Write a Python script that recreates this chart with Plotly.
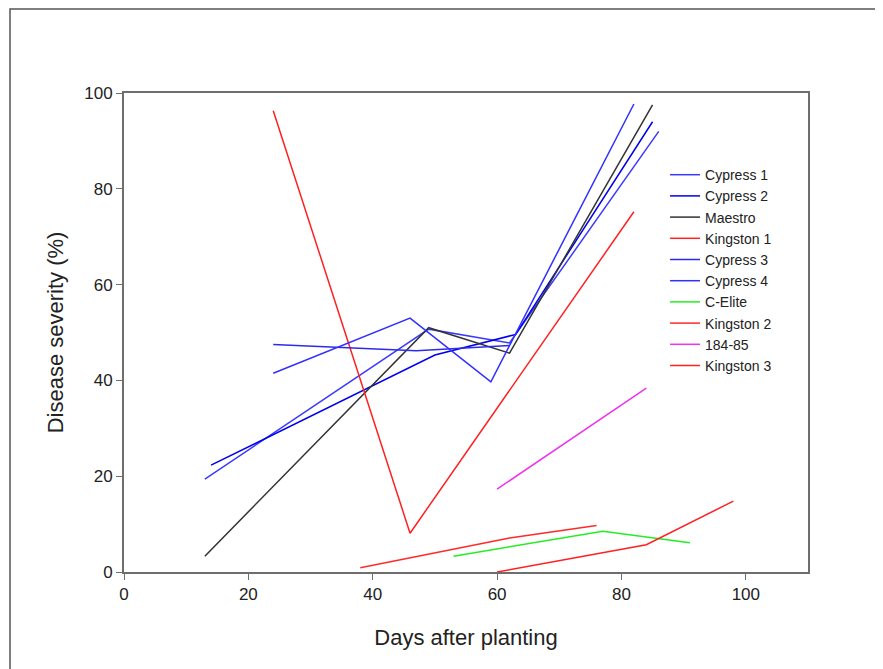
import plotly.graph_objects as go

# ---- data (days after planting, disease severity %) ----
names = ["Cypress 1", "Cypress 2", "Maestro", "Kingston 1", "Cypress 3",
         "Cypress 4", "C-Elite", "Kingston 2", "184-85", "Kingston 3"]
colors = ["#3a3aff", "#0000ee", "#333333", "#ff2020", "#2b2bf0",
          "#3030ff", "#22ee22", "#ff2a2a", "#ee33ee", "#ff2020"]

cypress1_x = [13, 49, 62, 86]
cypress1_y = [19.4, 50.7, 47.8, 92.0]
cypress2_x = [14, 50, 63, 85]
cypress2_y = [22.3, 45.3, 49.6, 94.0]
maestro_x = [13, 49, 62, 85]
maestro_y = [3.3, 51.0, 45.7, 97.5]
kingston1_x = [24, 46, 82]
kingston1_y = [96.3, 8.1, 75.2]
cypress3_x = [24, 47, 62]
cypress3_y = [47.5, 46.2, 47.3]
cypress4_x = [24, 46, 59, 82]
cypress4_y = [41.5, 53.0, 39.7, 97.7]
celite_x = [53, 77, 91]
celite_y = [3.3, 8.5, 6.1]
kingston2_x = [38, 62, 76]
kingston2_y = [0.9, 7.1, 9.7]
line18485_x = [60, 84]
line18485_y = [17.3, 38.4]
kingston3_x = [60, 84, 98]
kingston3_y = [0.0, 5.7, 14.8]

xs = [cypress1_x, cypress2_x, maestro_x, kingston1_x, cypress3_x,
      cypress4_x, celite_x, kingston2_x, line18485_x, kingston3_x]
ys = [cypress1_y, cypress2_y, maestro_y, kingston1_y, cypress3_y,
      cypress4_y, celite_y, kingston2_y, line18485_y, kingston3_y]

x_ticks = [0, 20, 40, 60, 80, 100]
y_ticks = [0, 20, 40, 60, 80, 100]

FONT = "Arial, Liberation Sans, sans-serif"

fig = go.Figure()
for n, c, x, y in zip(names, colors, xs, ys):
    fig.add_trace(go.Scatter(x=x, y=y, mode="lines", name=n,
                             line=dict(color=c, width=1.5)))

axis_common = dict(showline=True, mirror=True, linecolor="#6e6e6e", linewidth=2,
                   ticks="outside", ticklen=6, tickwidth=1.3, tickcolor="#6e6e6e",
                   showgrid=False, zeroline=False, automargin=False,
                   tickfont=dict(family=FONT, size=17, color="#222222"))

# page body adds an 8px offset, so margins are compensated
fig.update_layout(
    width=883, height=669,
    paper_bgcolor="white", plot_bgcolor="white",
    margin=dict(l=116, r=83, t=85, b=105),
    font=dict(family=FONT, color="#222222"),
    xaxis=dict(range=[0, 110], tickvals=x_ticks,
               title=dict(text="Days after planting", standoff=26,
                          font=dict(family=FONT, size=22, color="#222222")),
               **axis_common),
    yaxis=dict(range=[0, 100], tickvals=y_ticks,
               title=dict(text="Disease severity (%)", standoff=15,
                          font=dict(family=FONT, size=22, color="#222222")),
               **axis_common),
    legend=dict(x=0.791, y=0.862, xanchor="left", yanchor="top",
                bgcolor="rgba(0,0,0,0)", borderwidth=0,
                font=dict(family=FONT, size=14, color="#222222"),
                tracegroupgap=0, itemwidth=30),
    showlegend=True,
)

# outer frame of the figure panel
fig.add_shape(type="rect", xref="paper", yref="paper",
              x0=(10 - 124) / 684, x1=(900 - 124) / 684,
              y0=(572 - 690) / 479, y1=(572 - 9) / 479,
              line=dict(color="#555555", width=1.5), layer="below")

fig.write_html("out.html")
